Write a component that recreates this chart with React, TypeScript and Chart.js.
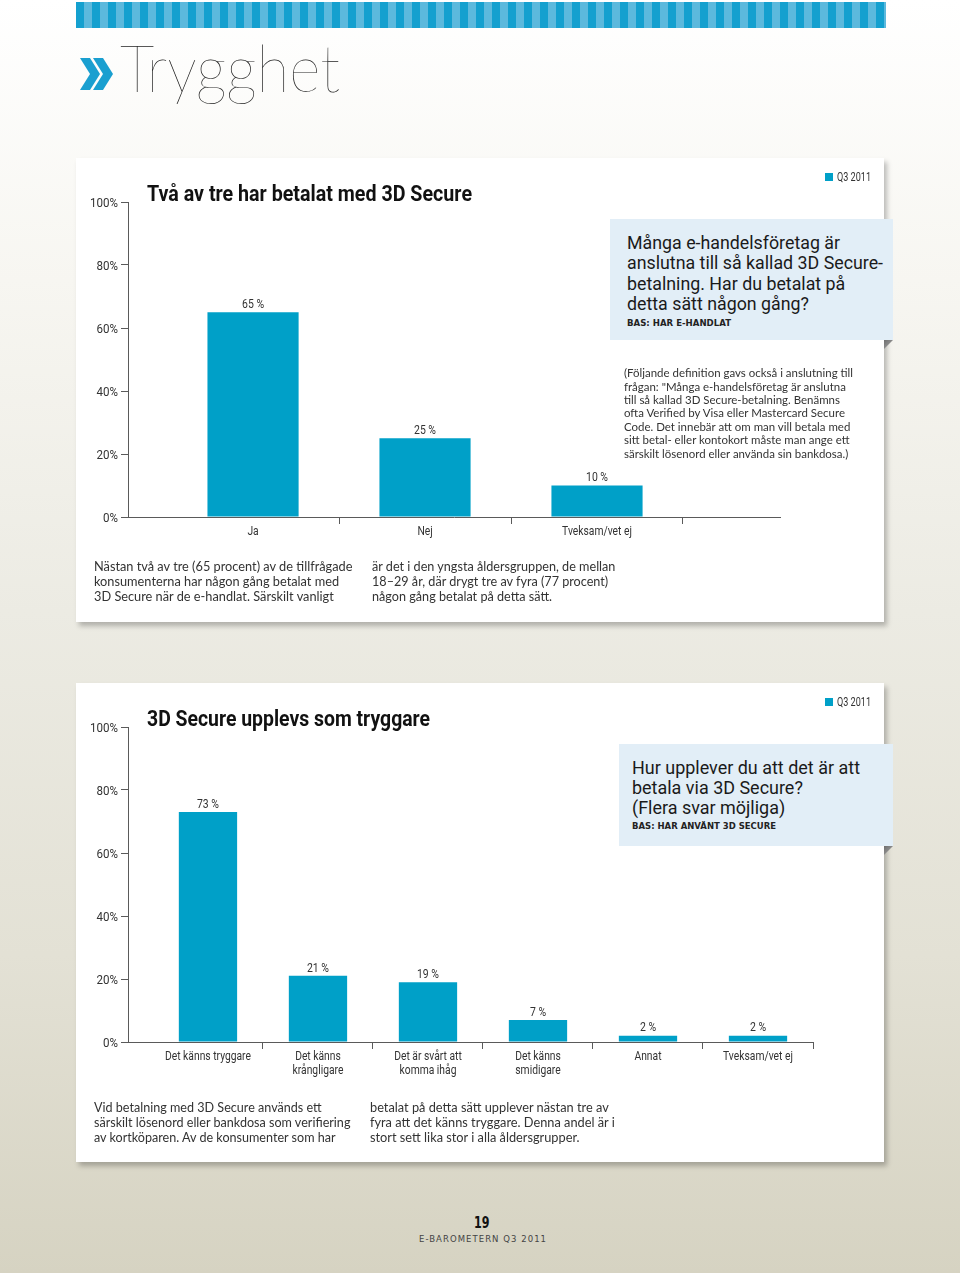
import React, { useEffect, useRef } from "react";
import { Chart, registerables } from "chart.js";

Chart.register(...registerables);

// ---------- data ----------
const chart1Categories: string[][] = [["Ja"], ["Nej"], ["Tveksam/vet ej"]];
const chart1Values: number[] = [65, 25, 10];

const chart2Categories: string[][] = [
  ["Det känns tryggare"],
  ["Det känns", "krångligare"],
  ["Det är svårt att", "komma ihåg"],
  ["Det känns", "smidigare"],
  ["Annat"],
  ["Tveksam/vet ej"],
];
const chart2Values: number[] = [73, 21, 19, 7, 2, 2];

const yTickValues: number[] = [0, 20, 40, 60, 80, 100];
const legendLabel = "Q3 2011";

// ---------- style ----------
const BAR = "#00a0c8";
const AXIS = "#5a5a5a";
const TXT = "#333";
const COND = "Roboto, 'DejaVu Sans', sans-serif";
const BODY = "Lato, 'Open Sans', sans-serif";

const mctx: CanvasRenderingContext2D | null =
  typeof document !== "undefined" ? document.createElement("canvas").getContext("2d") : null;
function measure(text: string, font: string): number {
  if (!mctx) return 1;
  mctx.font = font;
  return mctx.measureText(text).width || 1;
}

const Y_FONT = `12.5px ${COND}`;
const X_FONT = `13px ${COND}`;
const V_FONT = `12px ${COND}`;

type BarProps = {
  categories: string[][];
  values: number[];
  xMin: number;
  xMax: number;
  left: number;
  top: number;
  width: number;
  height: number;
  padRight: number;
  xAxisHeight: number;
};

function BarChart(p: BarProps) {
  const ref = useRef<HTMLCanvasElement | null>(null);
  useEffect(() => {
    if (!ref.current) return;
    const n = p.categories.length;
    const sy = 28 / measure("100%", Y_FONT);
    const sx = 86 / measure("Det känns tryggare", X_FONT);
    const sv = 22 / measure("65 %", V_FONT);
    const textPlugin = {
      id: "axisText",
      afterDraw(chart: any) {
        const ctx = chart.ctx;
        const xs = chart.scales.x;
        const ys = chart.scales.y;
        ctx.save();
        ctx.fillStyle = TXT;
        ctx.textBaseline = "alphabetic";
        // y tick labels
        ctx.font = Y_FONT;
        ctx.textAlign = "right";
        yTickValues.forEach((v) => {
          const py = ys.getPixelForValue(v);
          ctx.save();
          ctx.translate(ys.right - 10, py + 4.5);
          ctx.scale(sy, 1);
          ctx.fillText(`${v}%`, 0, 0);
          ctx.restore();
        });
        // x category labels
        ctx.font = X_FONT;
        ctx.textAlign = "center";
        p.categories.forEach((lines, i) => {
          const px = xs.getPixelForValue(i);
          lines.forEach((line, j) => {
            ctx.save();
            ctx.translate(px, xs.top + 17.8 + j * 13.8);
            ctx.scale(sx, 1);
            ctx.fillText(line, 0, 0);
            ctx.restore();
          });
        });
        // value labels
        ctx.font = V_FONT;
        const meta = chart.getDatasetMeta(0);
        const data = chart.data.datasets[0].data;
        meta.data.forEach((bar: any, i: number) => {
          ctx.save();
          ctx.translate(bar.x, bar.y - 4.3);
          ctx.scale(sv, 1);
          ctx.fillText(`${data[i].y} %`, 0, 0);
          ctx.restore();
        });
        ctx.restore();
      },
    };
    const chart = new Chart(ref.current, {
      type: "bar",
      data: {
        datasets: [
          {
            data: p.values.map((v, i) => ({ x: i, y: v })),
            backgroundColor: BAR,
            borderWidth: 0,
            categoryPercentage: 1,
            barPercentage: 0.53,
          } as any,
        ],
      },
      plugins: [textPlugin],
      options: {
        animation: false,
        responsive: false,
        devicePixelRatio: 1,
        layout: { padding: { top: 44, right: p.padRight, left: 0, bottom: 0 } },
        plugins: { legend: { display: false }, tooltip: { enabled: false } },
        scales: {
          x: {
            type: "linear",
            min: p.xMin,
            max: p.xMax,
            offset: false,
            afterBuildTicks: (scale: any) => {
              const t: any[] = [];
              for (let i = 0; i < n; i++) t.push({ value: i });
              scale.ticks = t;
            },
            afterFit: (scale: any) => {
              scale.height = p.xAxisHeight;
            },
            ticks: { display: false, autoSkip: false },
            grid: {
              offset: true,
              drawOnChartArea: false,
              drawTicks: true,
              tickLength: 7,
              color: (c: any) => (c.index === 0 ? "rgba(0,0,0,0)" : AXIS),
            },
            border: { display: true, color: AXIS, width: 1 },
          },
          y: {
            min: 0,
            max: 100,
            afterBuildTicks: (scale: any) => {
              scale.ticks = yTickValues.map((v) => ({ value: v }));
            },
            afterFit: (scale: any) => {
              scale.width = 52;
            },
            ticks: { display: false },
            grid: { drawOnChartArea: false, drawTicks: true, tickLength: 7, color: AXIS },
            border: { display: true, color: AXIS, width: 1 },
          },
        },
      } as any,
    });
    return () => chart.destroy();
  }, []);
  return (
    <canvas
      ref={ref}
      width={p.width}
      height={p.height}
      style={{ position: "absolute", left: p.left, top: p.top, width: p.width, height: p.height, zIndex: 1 }}
    />
  );
}

// Text block horizontally fitted so that a reference line gets a target width
type FitProps = {
  left: number;
  top: number;
  family: string;
  size: number;
  weight?: number | string;
  lineHeight: number;
  lines: string[];
  refIndex?: number;
  refWidth: number;
  color?: string;
};
function Fit(f: FitProps) {
  const weight = f.weight ?? 400;
  const font = `${weight} ${f.size}px ${f.family}`;
  const s = f.refWidth / measure(f.lines[f.refIndex ?? 0], font);
  return (
    <div
      style={{
        position: "absolute",
        left: f.left,
        top: f.top,
        fontFamily: f.family,
        fontSize: f.size,
        fontWeight: weight as any,
        lineHeight: `${f.lineHeight}px`,
        color: f.color ?? TXT,
        whiteSpace: "nowrap",
        transform: `scaleX(${s})`,
        transformOrigin: "0 0",
        zIndex: 3,
      }}
    >
      {f.lines.map((l, i) => (
        <div key={i}>{l}</div>
      ))}
    </div>
  );
}

function Panel({ top, height }: { top: number; height: number }) {
  return (
    <div
      style={{
        position: "absolute",
        left: 76,
        top,
        width: 808,
        height,
        background: "#fff",
        boxShadow: "3px 4px 5px rgba(0,0,0,0.25)",
      }}
    />
  );
}

function Legend({ baseline }: { baseline: number }) {
  return (
    <>
      <div style={{ position: "absolute", left: 825, top: baseline - 8, width: 8, height: 8, background: BAR, zIndex: 3 }} />
      <Fit left={837.3} top={baseline - 10.2} family={COND} size={12} lineHeight={12} lines={[legendLabel]} refWidth={34} />
    </>
  );
}

function InfoBox({
  left,
  top,
  width,
  height,
  lines,
  refIndex,
  refWidth,
  textLeft,
  firstBaseline,
  bas,
  basWidth,
  basBaseline,
}: {
  left: number;
  top: number;
  width: number;
  height: number;
  lines: string[];
  refIndex: number;
  refWidth: number;
  textLeft: number;
  firstBaseline: number;
  bas: string;
  basWidth: number;
  basBaseline: number;
}) {
  return (
    <>
      <div style={{ position: "absolute", left, top, width, height, background: "#e2eef7", zIndex: 2 }} />
      <div
        style={{
          position: "absolute",
          left: 884,
          top: top + height,
          width: 9,
          height: 9,
          background: "linear-gradient(135deg, #6f6f6f 0%, #a8a8a8 100%)",
          clipPath: "polygon(0 0, 100% 0, 0 100%)",
          zIndex: 2,
        }}
      />
      <Fit
        left={textLeft}
        top={firstBaseline - (10 + 0.3415 * 18.5)}
        family={COND}
        size={18.5}
        weight={400}
        lineHeight={20.1}
        lines={lines}
        refIndex={refIndex}
        refWidth={refWidth}
        color="#1a1a1a"
      />
      <Fit
        left={textLeft}
        top={basBaseline - 7.6}
        family="'DejaVu Sans', sans-serif"
        size={9}
        weight={700}
        lineHeight={9}
        lines={[bas]}
        refWidth={basWidth}
        color="#222"
      />
    </>
  );
}

function Footer() {
  const label = "E-BAROMETERN Q3 2011";
  const font = `8.5px 'DejaVu Sans', sans-serif`;
  const w = measure(label, font);
  const ls = (127 - w) / (label.length - 1);
  return (
    <>
      <Fit left={474} top={1228.5 - 12.7} family="'DejaVu Sans', sans-serif" size={15} weight={700} lineHeight={15} lines={["19"]} refWidth={15.5} color="#111" />
      <div
        style={{
          position: "absolute",
          left: 419,
          top: 1234.8,
          font,
          lineHeight: "9px",
          letterSpacing: ls,
          color: "#444",
          whiteSpace: "nowrap",
        }}
      >
        {label}
      </div>
    </>
  );
}

export default function App() {
  useEffect(() => {
    document.body.style.margin = "0";
  }, []);
  return (
    <div
      style={{
        position: "absolute",
        left: 0,
        top: 0,
        width: 960,
        height: 1273,
        overflow: "hidden",
        background: "linear-gradient(to bottom, #ffffff 0%, #f7f6f1 22%, #ecebe3 48%, #e3e1d5 75%, #d6d3c2 100%)",
        fontFamily: BODY,
      }}
    >
      {/* stripe bar */}
      <div
        style={{
          position: "absolute",
          left: 76,
          top: 2,
          width: 810,
          height: 26,
          background: "repeating-linear-gradient(to right, #14a0cf 0px, #14a0cf 8px, #5cb9dd 8px, #5cb9dd 16px)",
        }}
      />
      {/* chevrons + heading */}
      <svg style={{ position: "absolute", left: 78, top: 55 }} width={40} height={40} viewBox="0 0 40 40">
        <polygon points="2,3 12,3 22,19 12,35 2,35 12,19" fill="#1a9fd0" />
        <polygon points="15,3 25,3 35,19 25,35 15,35 25,19" fill="#1a9fd0" />
      </svg>
      <Fit left={120} top={33.5} family="Lato, Roboto, sans-serif" size={66} weight={100} lineHeight={66} lines={["Trygghet"]} refWidth={220} color="#222" />

      {/* panel 1 */}
      <Panel top={158} height={464} />
      <Legend baseline={180.7} />
      <Fit
        left={147}
        top={201.7 - (11 + 0.3415 * 22)}
        family={COND}
        size={22}
        weight={700}
        lineHeight={22}
        lines={["Två av tre har betalat med 3D Secure"]}
        refWidth={325}
        color="#111"
      />
      <BarChart
        categories={chart1Categories}
        values={chart1Values}
        xMin={-0.727}
        xMax={3.064}
        left={76}
        top={158}
        width={808}
        height={420}
        padRight={104}
        xAxisHeight={61}
      />
      <InfoBox
        left={610}
        top={219}
        width={283}
        height={121}
        lines={["Många e-handelsföretag är", "anslutna till så kallad 3D Secure-", "betalning. Har du betalat på", "detta sätt någon gång?"]}
        refIndex={1}
        refWidth={256}
        textLeft={627}
        firstBaseline={249.7}
        bas="BAS: HAR E-HANDLAT"
        basWidth={104}
        basBaseline={326.7}
      />
      <Fit
        left={624}
        top={366.2}
        family={BODY}
        size={10.8}
        lineHeight={13.4}
        lines={[
          "(Följande definition gavs också i anslutning till",
          "frågan: \"Många e-handelsföretag är anslutna",
          "till så kallad 3D Secure-betalning. Benämns",
          "ofta Verified by Visa eller Mastercard Secure",
          "Code. Det innebär att om man vill betala med",
          "sitt betal- eller kontokort måste man ange ett",
          "särskilt lösenord eller använda sin bankdosa.)",
        ]}
        refWidth={229}
      />
      <Fit
        left={94}
        top={558.5}
        family={BODY}
        size={12.5}
        lineHeight={15.1}
        lines={[
          "Nästan två av tre (65 procent) av de tillfrågade",
          "konsumenterna har någon gång betalat med",
          "3D Secure när de e-handlat. Särskilt vanligt",
        ]}
        refWidth={259}
      />
      <Fit
        left={372}
        top={558.5}
        family={BODY}
        size={12.5}
        lineHeight={15.1}
        lines={[
          "är det i den yngsta åldersgruppen, de mellan",
          "18–29 år, där drygt tre av fyra (77 procent)",
          "någon gång betalat på detta sätt.",
        ]}
        refWidth={244}
      />

      {/* panel 2 */}
      <Panel top={683} height={479} />
      <Legend baseline={706.2} />
      <Fit
        left={147}
        top={726.7 - (11 + 0.3415 * 22)}
        family={COND}
        size={22}
        weight={700}
        lineHeight={22}
        lines={["3D Secure upplevs som tryggare"]}
        refWidth={283}
        color="#111"
      />
      <BarChart
        categories={chart2Categories}
        values={chart2Values}
        xMin={-0.727}
        xMax={5.5}
        left={76}
        top={683}
        width={808}
        height={440}
        padRight={71}
        xAxisHeight={81}
      />
      <InfoBox
        left={619}
        top={744}
        width={274}
        height={102}
        lines={["Hur upplever du att det är att", "betala via 3D Secure?", "(Flera svar möjliga)"]}
        refIndex={0}
        refWidth={228}
        textLeft={632}
        firstBaseline={774}
        bas="BAS: HAR ANVÄNT 3D SECURE"
        basWidth={144}
        basBaseline={830}
      />
      <Fit
        left={94}
        top={1100}
        family={BODY}
        size={12.5}
        lineHeight={15.1}
        lines={[
          "Vid betalning med 3D Secure används ett",
          "särskilt lösenord eller bankdosa som verifiering",
          "av kortköparen. Av de konsumenter som har",
        ]}
        refIndex={1}
        refWidth={257}
      />
      <Fit
        left={370}
        top={1100}
        family={BODY}
        size={12.5}
        lineHeight={15.1}
        lines={[
          "betalat på detta sätt upplever nästan tre av",
          "fyra att det känns tryggare. Denna andel är i",
          "stort sett lika stor i alla åldersgrupper.",
        ]}
        refWidth={239}
      />

      <Footer />
    </div>
  );
}
